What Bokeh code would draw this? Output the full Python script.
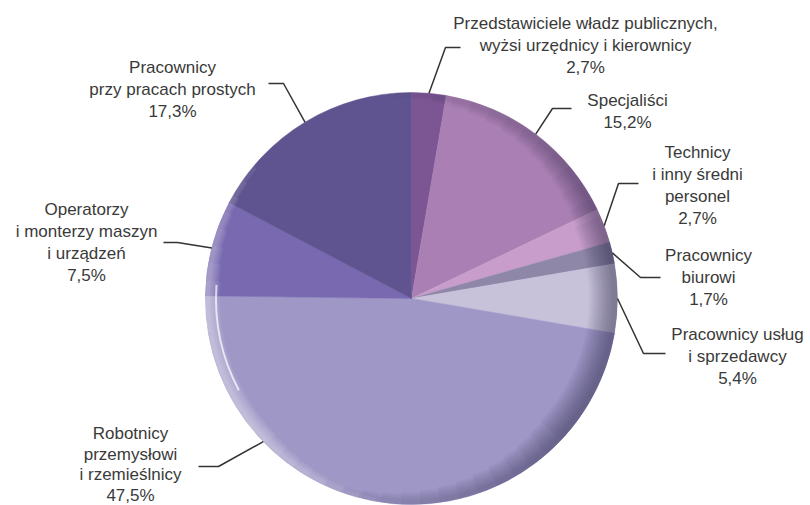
import math
from bokeh.plotting import figure
from bokeh.models import Range1d
from bokeh.core.properties import value
from bokeh.embed import file_html
from bokeh.resources import INLINE

# ---- data ----
categories = [
    "Przedstawiciele władz publicznych, wyżsi urzędnicy i kierownicy",
    "Specjaliści",
    "Technicy i inny średni personel",
    "Pracownicy biurowi",
    "Pracownicy usług i sprzedawcy",
    "Robotnicy przemysłowi i rzemieślnicy",
    "Operatorzy i monterzy maszyn i urządzeń",
    "Pracownicy przy pracach prostych",
]
shares = [2.7, 15.2, 2.7, 1.7, 5.4, 47.5, 7.5, 17.3]
share_labels = ["2,7%", "15,2%", "2,7%", "1,7%", "5,4%", "47,5%", "7,5%", "17,3%"]
label_lines = [
    ["Przedstawiciele władz publicznych,", "wyżsi urzędnicy i kierownicy"],
    ["Specjaliści"],
    ["Technicy", "i inny średni", "personel"],
    ["Pracownicy", "biurowi"],
    ["Pracownicy usług", "i sprzedawcy"],
    ["Robotnicy", "przemysłowi", "i rzemieślnicy"],
    ["Operatorzy", "i monterzy maszyn", "i urządzeń"],
    ["Pracownicy", "przy pracach prostych"],
]
colors = ["#7c5593", "#aa80b4", "#c89dcc", "#8e87a8", "#c8c1da",
          "#9f97c6", "#7869b0", "#605490"]

# ---- layout (page pixel coordinates, y downward) ----
W, H = 810, 505
CX, CY, R = 411, 298, 206
label_pos = [(585, 23), (627, 100), (697, 152), (708, 255), (737, 334),
             (130, 433), (86, 209), (172, 67)]
line_gaps = [22, 22, 22, 22, 22, 20.7, 22, 22]
anchor_override = {5: 226.0}
leader_bends = [
    [(445, 47), (460, 47)],
    [(552, 108), (571, 108)],
    [(618, 183), (638, 183)],
    [(640, 277), (660, 277)],
    [(643, 353), (665, 353)],
    [(218, 466), (198, 466)],
    [(177, 242), (163, 242)],
    [(283, 83), (268, 83)],
]

def Y(y):
    return H - y

p = figure(width=W, height=H, output_backend="svg", toolbar_location=None,
           x_range=Range1d(0, W), y_range=Range1d(0, H), min_border=0)
p.axis.visible = False
p.grid.visible = False
p.outline_line_color = None
p.background_fill_color = "white"
p.border_fill_color = "white"

total = sum(shares)
cum = 0.0
starts, ends, mids = [], [], []
for s in shares:
    a0 = math.pi / 2 - 2 * math.pi * cum / total
    cum += s
    a1 = math.pi / 2 - 2 * math.pi * cum / total
    starts.append(a0)
    ends.append(a1)
    mids.append((a0 + a1) / 2)

p.wedge(x=[CX] * len(shares), y=[Y(CY)] * len(shares), radius=R,
        start_angle=starts, end_angle=ends, direction="clock",
        fill_color=colors, line_color=colors, line_width=0.5)

# rim shading: dark gradient on the right side
n_dark = 14
dc = math.radians(-10)
for k in range(n_dark):
    half = math.radians(105 - 5.5 * k)
    depth = 5 + 1.8 * k
    p.annular_wedge(x=CX, y=Y(CY), inner_radius=R - depth, outer_radius=R,
                    start_angle=dc - half, end_angle=dc + half,
                    fill_color="#1c1432", fill_alpha=0.035, line_color=None)
# light gradient on the lower-left side
n_light = 8
lc = math.radians(200)
for k in range(n_light):
    half = math.radians(60 - 5 * k)
    depth = 4 + 1.5 * k
    p.annular_wedge(x=CX, y=Y(CY), inner_radius=R - depth, outer_radius=R,
                    start_angle=lc - half, end_angle=lc + half,
                    fill_color="white", fill_alpha=0.06, line_color=None)
# highlight arc
p.annular_wedge(x=CX, y=Y(CY), inner_radius=R - 11.5, outer_radius=R - 9.5,
                start_angle=math.radians(176), end_angle=math.radians(208),
                fill_color="white", fill_alpha=0.7, line_color=None)

font = value("Liberation Sans")
for i in range(len(shares)):
    if i in anchor_override:
        ang = math.radians(anchor_override[i])
        ax = CX + R * math.sin(ang)
        ay = CY - R * math.cos(ang)
    else:
        ax = CX + R * math.cos(mids[i])
        ay = CY - R * math.sin(mids[i])
    xs = [ax] + [b[0] for b in leader_bends[i]]
    ys = [Y(ay)] + [Y(b[1]) for b in leader_bends[i]]
    p.line(xs, ys, line_color="#333333", line_width=1.5)

    lines = label_lines[i] + [share_labels[i]]
    lx, ly = label_pos[i]
    g = line_gaps[i]
    p.text(x=[lx] * len(lines), y=[Y(ly + k * g) for k in range(len(lines))],
           text=lines, text_align="center", text_baseline="middle",
           text_font=font, text_font_size="17px", text_color="#3a3a3a")

open("out.html", "w").write(file_html(p, INLINE))
